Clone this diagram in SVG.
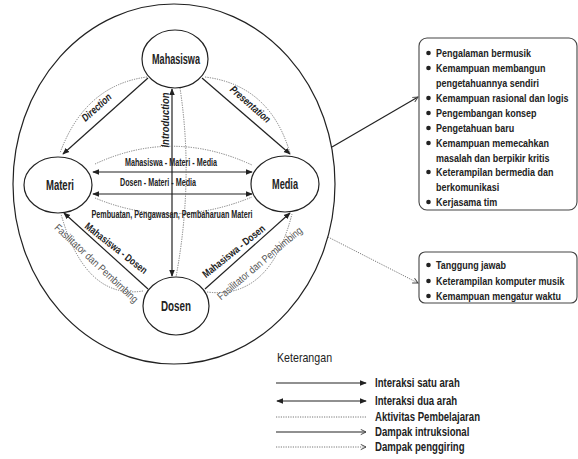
<svg xmlns="http://www.w3.org/2000/svg" width="578" height="459" viewBox="0 0 578 459">
<defs>
<marker id="ah" viewBox="0 0 8 8" refX="7" refY="4" markerWidth="7" markerHeight="7" orient="auto-start-reverse" markerUnits="userSpaceOnUse"><path d="M0,0.8 L8,4 L0,7.2 Z" fill="#222"/></marker>
<marker id="open" viewBox="0 0 8 8" refX="7" refY="4" markerWidth="7" markerHeight="7" orient="auto" markerUnits="userSpaceOnUse"><path d="M1,1 L7,4 L1,7" fill="none" stroke="#444" stroke-width="1.1"/></marker>
</defs>
<style>
text{font-family:"Liberation Sans",Arial,sans-serif;fill:#222}
.node ellipse{fill:#fff;stroke:#222;stroke-width:1.2}
.nl{font-size:14px;font-weight:bold;text-anchor:middle}
.s{stroke:#222;stroke-width:1.2;fill:none}
.d{stroke:#777;stroke-width:1;stroke-dasharray:1.2,1.2;fill:none}
.lb{font-size:10.5px;font-weight:bold;text-anchor:middle}
.it{font-size:10.5px;font-style:italic;font-weight:bold;text-anchor:middle}
.fp{font-size:10.5px;fill:#555;text-anchor:middle}
.bx{fill:#fff;stroke:#444;stroke-width:1.1}
.bt{font-size:11.5px;font-weight:bold}
.lg{font-size:12px;font-weight:bold}
</style>
<ellipse cx="174" cy="184" rx="161" ry="180" fill="none" stroke="#222" stroke-width="1.2"/>
<g id="connectors">
<line class="s" x1="148" y1="78" x2="63" y2="154" marker-end="url(#ah)"/>
<line class="s" x1="202" y1="78" x2="290" y2="154" marker-end="url(#ah)"/>
<line class="s" x1="172" y1="89" x2="172" y2="276" marker-start="url(#ah)" marker-end="url(#ah)"/>
<line class="s" x1="93" y1="172" x2="252" y2="172" marker-start="url(#ah)" marker-end="url(#ah)"/>
<line class="s" x1="93" y1="194" x2="252" y2="194" marker-start="url(#ah)" marker-end="url(#ah)"/>
<line class="s" x1="148" y1="289" x2="64" y2="213" marker-end="url(#ah)"/>
<line class="s" x1="205" y1="289" x2="290" y2="213" marker-end="url(#ah)"/>
<path class="d" d="M147,77 Q85,85 60,153"/>
<path class="d" d="M205,77 Q270,85 290,153"/>
<path class="d" d="M180,88 Q194,180 176,277"/>
<path class="d" d="M95,164 Q172,128 252,165"/>
<path class="d" d="M95,198 Q172,230 252,197"/>
<path class="d" d="M143,291 Q85,300 61,214"/>
<path class="d" d="M207,292 Q270,300 292,214"/>
<line class="s" x1="332" y1="147" x2="418" y2="97" marker-end="url(#open)" stroke-width="1"/>
<line class="d" x1="328" y1="237" x2="418" y2="283" marker-end="url(#open)" stroke="#555"/>
<text class="it" transform="translate(99,110) rotate(-42)" textLength="36" lengthAdjust="spacingAndGlyphs">Direction</text>
<text class="it" transform="translate(248,107) rotate(41)" textLength="50" lengthAdjust="spacingAndGlyphs">Presentation</text>
<text class="it" transform="translate(169,120) rotate(-90)" textLength="55" lengthAdjust="spacingAndGlyphs">Introduction</text>
<text class="lb" x="171" y="166" textLength="92" lengthAdjust="spacingAndGlyphs">Mahasiswa - Materi - Media</text>
<text class="lb" x="158" y="186" textLength="76" lengthAdjust="spacingAndGlyphs">Dosen - Materi - Media</text>
<text class="lb" x="172" y="218" font-weight="normal" textLength="161" lengthAdjust="spacingAndGlyphs">Pembuatan, Pengawasan, Pembaharuan Materi</text>
<text class="lb" transform="translate(114,251) rotate(38)" textLength="76" lengthAdjust="spacingAndGlyphs">Mahasiswa - Dosen</text>
<text class="fp" transform="translate(94,266) rotate(43)" textLength="110" lengthAdjust="spacingAndGlyphs">Fasilitator dan Pembimbing</text>
<text class="lb" transform="translate(236,254) rotate(-39)" textLength="77" lengthAdjust="spacingAndGlyphs">Mahasiswa - Dosen</text>
<text class="fp" transform="translate(262,266) rotate(-40)" textLength="107" lengthAdjust="spacingAndGlyphs">Fasilitator dan Pembimbing</text>
</g>
<g id="mahasiswa" class="node"><ellipse cx="175" cy="59" rx="33" ry="29"/><text class="nl" x="176" y="64" textLength="48" lengthAdjust="spacingAndGlyphs">Mahasiswa</text></g>
<g id="materi" class="node"><ellipse cx="58" cy="185" rx="34" ry="28"/><text class="nl" x="60" y="190" textLength="28" lengthAdjust="spacingAndGlyphs">Materi</text></g>
<g id="media" class="node"><ellipse cx="285" cy="184" rx="34" ry="28"/><text class="nl" x="285" y="189" textLength="26" lengthAdjust="spacingAndGlyphs">Media</text></g>
<g id="dosen" class="node"><ellipse cx="176" cy="306" rx="33" ry="29"/><text class="nl" x="176" y="311" textLength="30" lengthAdjust="spacingAndGlyphs">Dosen</text></g>
<g id="box1">
<rect class="bx" x="419" y="38" width="158" height="172" rx="8"/>
<g fill="#222">
<circle cx="428.5" cy="53" r="2.3"/><circle cx="428.5" cy="68" r="2.3"/><circle cx="428.5" cy="98" r="2.3"/><circle cx="428.5" cy="113" r="2.3"/><circle cx="428.5" cy="128" r="2.3"/><circle cx="428.5" cy="143" r="2.3"/><circle cx="428.5" cy="172" r="2.3"/><circle cx="428.5" cy="202" r="2.3"/>
</g>
<g class="bt" transform="translate(436,0) scale(0.78,1)">
<text x="0" y="57">Pengalaman bermusik</text>
<text x="0" y="72">Kemampuan membangun</text>
<text x="0" y="87">pengetahuannya sendiri</text>
<text x="0" y="102">Kemampuan rasional dan logis</text>
<text x="0" y="117">Pengembangan konsep</text>
<text x="0" y="132">Pengetahuan baru</text>
<text x="0" y="147">Kemampuan memecahkan</text>
<text x="0" y="162">masalah dan berpikir kritis</text>
<text x="0" y="176">Keterampilan bermedia dan</text>
<text x="0" y="191">berkomunikasi</text>
<text x="0" y="206">Kerjasama tim</text>
</g>
</g>
<g id="box2">
<rect class="bx" x="419" y="252" width="158" height="51" rx="6"/>
<g fill="#222"><circle cx="428.5" cy="265" r="2.3"/><circle cx="428.5" cy="281" r="2.3"/><circle cx="428.5" cy="296" r="2.3"/></g>
<g class="bt" transform="translate(436,0) scale(0.78,1)">
<text x="0" y="269">Tanggung jawab</text>
<text x="0" y="285">Keterampilan komputer musik</text>
<text x="0" y="300">Kemampuan mengatur waktu</text>
</g>
</g>
<g id="legend">
<text transform="translate(277,0) scale(0.82,1)" x="0" y="362" font-size="13">Keterangan</text>
<line class="s" x1="276" y1="383" x2="366" y2="383" marker-end="url(#ah)"/>
<line class="s" x1="277" y1="401" x2="366" y2="401" marker-start="url(#ah)" marker-end="url(#ah)"/>
<line class="d" x1="276" y1="417" x2="366" y2="417"/>
<line class="s" x1="276" y1="432" x2="366" y2="432" marker-end="url(#open)"/>
<line class="d" x1="276" y1="447" x2="366" y2="447" marker-end="url(#open)"/>
<g class="lg" transform="translate(375,0) scale(0.8,1)">
<text x="0" y="387">Interaksi satu arah</text>
<text x="0" y="405">Interaksi dua arah</text>
<text x="0" y="421">Aktivitas Pembelajaran</text>
<text x="0" y="436">Dampak intruksional</text>
<text x="0" y="451">Dampak penggiring</text>
</g>
</g>
</svg>
